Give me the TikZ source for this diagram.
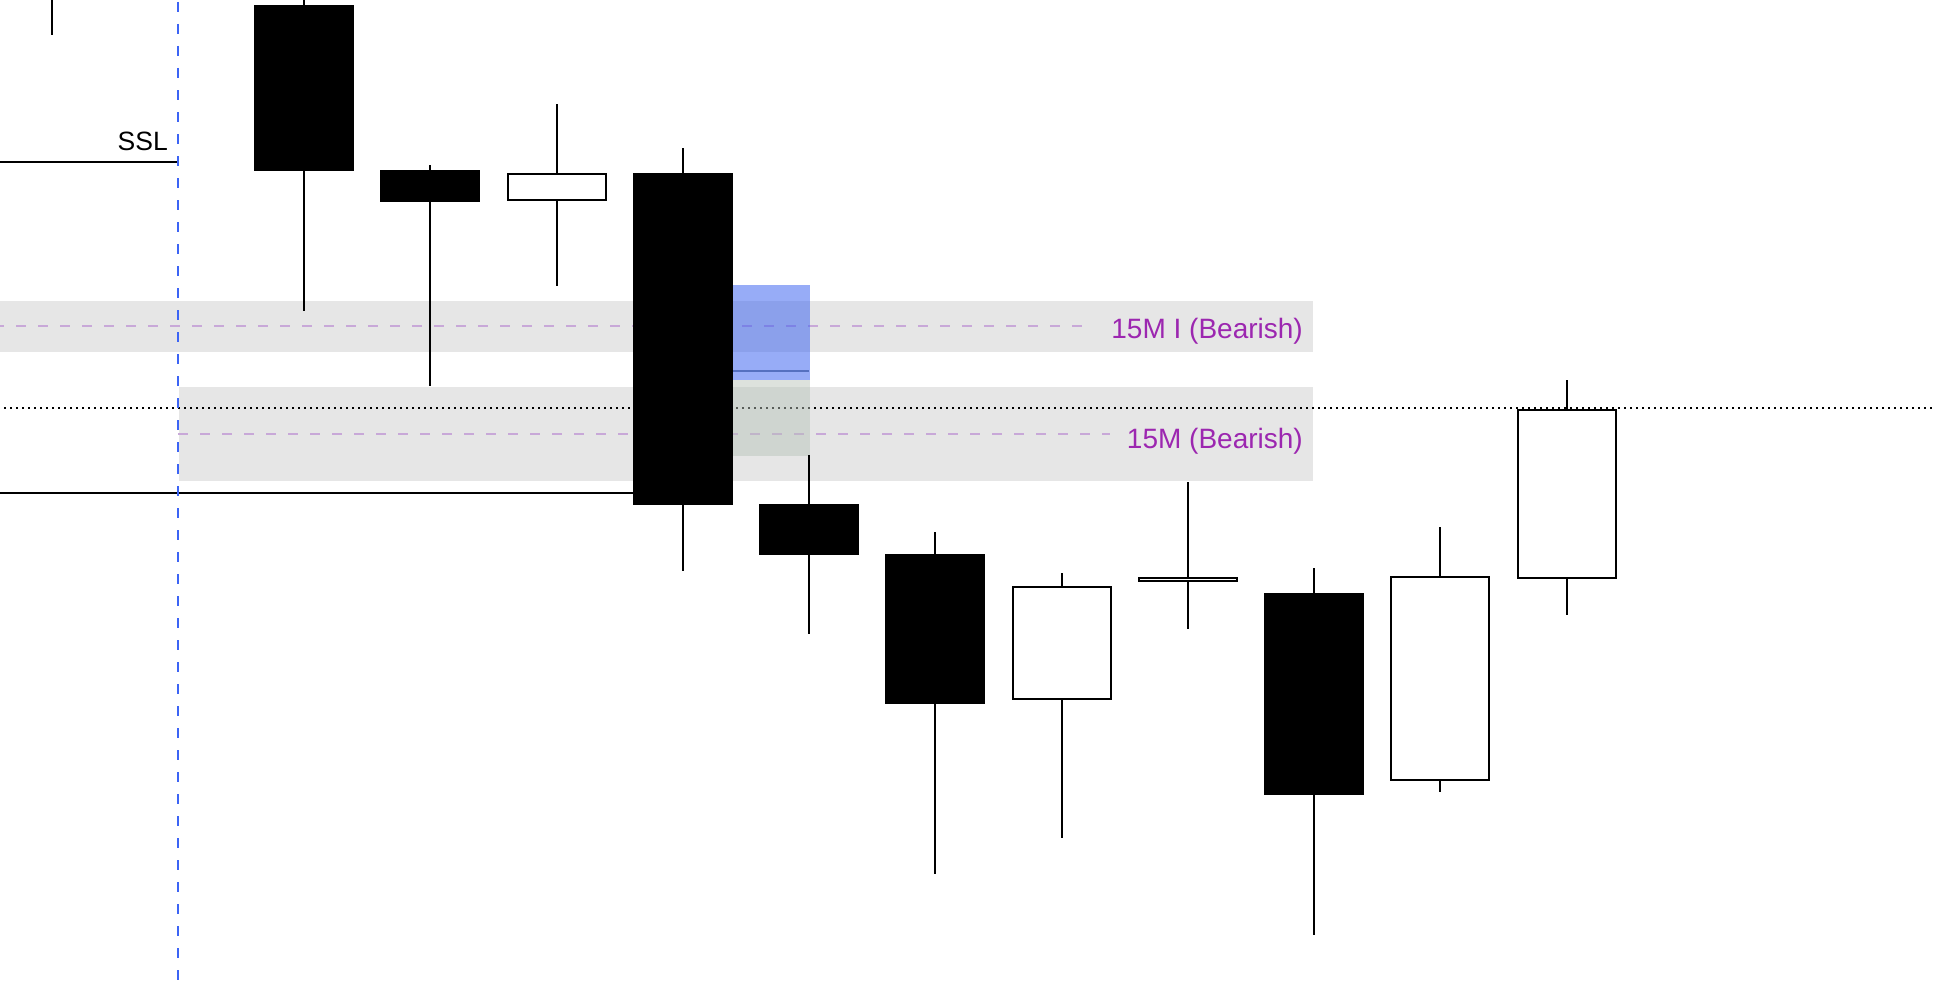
\documentclass[tikz,border=0pt]{standalone}
\usepackage{fontspec}
\setmainfont{Liberation Sans}
\definecolor{bandgrey}{RGB}{230,230,230}
\definecolor{dashpurple}{RGB}{200,168,216}
\definecolor{txtpurple}{RGB}{156,39,176}
\definecolor{vblue}{RGB}{60,100,245}
\definecolor{boxblue}{RGB}{57,97,241}
\definecolor{boxgreen}{RGB}{184,195,186}
\definecolor{midline}{RGB}{85,112,192}
\newcommand\bcandle[5]{%
  \draw[wick] (#1,#2) -- (#1,#5);
  \fill[black] (#1-50,#3) rectangle (#1+50,#4);}
\newcommand\wcandle[5]{%
  \draw[wick] (#1,#2) -- (#1,#3+1);
  \draw[wick] (#1,#4-1) -- (#1,#5);
  \draw[black,line width=2pt,fill=white] (#1-49,#3+1) rectangle (#1+49,#4-1);}
\begin{document}
\begin{tikzpicture}[x=1pt,y=-1pt,
  wick/.style={black,line width=2pt,line cap=butt},
  band/.style={fill=bandgrey},
  zoneline/.style={dashpurple,line width=2pt,dash pattern=on 10pt off 12pt},
  zonelabel/.style={text=txtpurple,anchor=base east,inner sep=0pt,font=\fontsize{28}{30}\selectfont}]
\useasboundingbox (0,0) rectangle (1936,990);
\fill[white] (0,0) rectangle (1936,990);
% zones
\fill[band] (0,301) rectangle (1313,352);
\fill[band] (179,387) rectangle (1313,481);
\draw[zoneline] (-6,326) -- (1083,326);
\draw[zoneline] (178,434) -- (1110,434);
% dotted level
\draw[black,line width=2pt,dash pattern=on 2pt off 4pt] (4,408) -- (1936,408);
% horizontal lines
\coordinate (sslA) at (0,162);
\coordinate (sslB) at (178,162);
\draw[black,line width=2pt] (sslA) -- (sslB);
\coordinate (lowA) at (0,493);
\coordinate (lowB) at (633,493);
\draw[black,line width=2pt] (lowA) -- (lowB);
% imbalance boxes
\fill[boxblue,fill opacity=0.52] (733,285) rectangle (810,380);
\fill[boxgreen,fill opacity=0.48] (733,380) rectangle (810,456);
\draw[midline,line width=2pt] (733,371) -- (809,371);
% candles
\draw[wick] (52,0) -- (52,35);
\bcandle{304}{0}{5}{171}{311}
\bcandle{430}{165}{170}{202}{386}
\wcandle{557}{104}{173}{201}{286}
\bcandle{683}{148}{173}{505}{571}
\bcandle{809}{455}{504}{555}{634}
\bcandle{935}{532}{554}{704}{874}
\wcandle{1062}{573}{586}{700}{838}
\wcandle{1188}{482}{577}{582}{629}
\bcandle{1314}{568}{593}{795}{935}
\wcandle{1440}{527}{576}{781}{792}
\wcandle{1567}{380}{409}{579}{615}
% vertical session line
\coordinate (vtop) at (178,2);
\coordinate (vbot) at (178,980);
\draw[vblue,line width=2pt,dash pattern=on 10pt off 12pt] (vtop) -- (vbot);
% labels
\node[anchor=base east,inner sep=0pt,font=\fontsize{26.5}{28}\selectfont] (ssl) at (168,150) {SSL};
\node[zonelabel] (z1) at (1303,338) {15M I (Bearish)};
\node[zonelabel] (z2) at (1303,448) {15M (Bearish)};
\end{tikzpicture}
\end{document}
